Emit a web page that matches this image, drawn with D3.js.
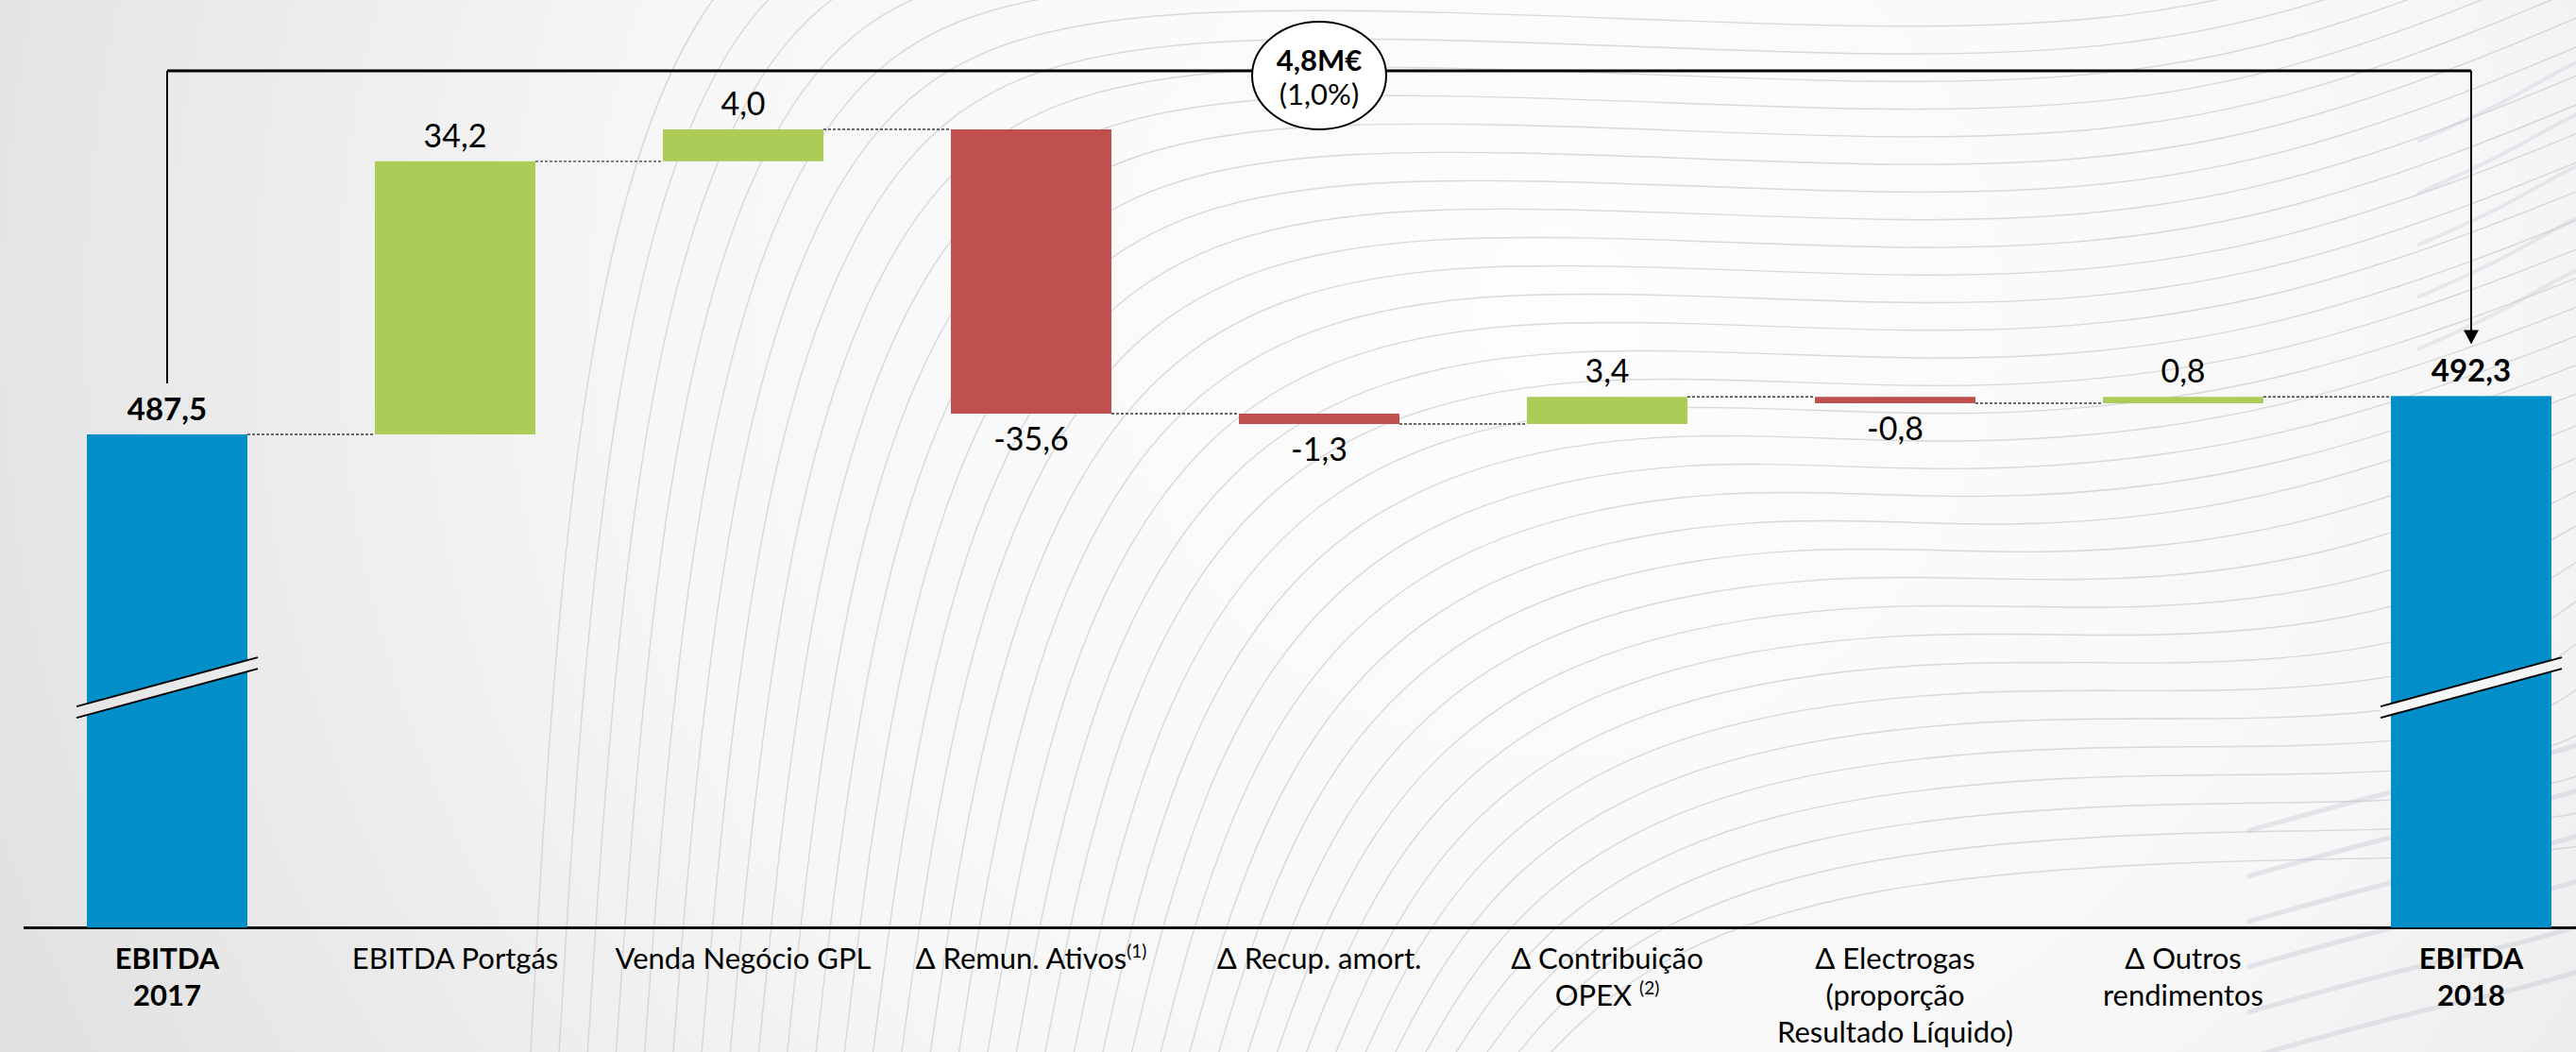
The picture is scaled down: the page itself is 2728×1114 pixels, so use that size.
<!DOCTYPE html>
<html>
<head>
<meta charset="utf-8">
<script src="https://cdn.jsdelivr.net/npm/d3@7"></script>
<style>
  html, body { margin: 0; padding: 0; background: #f4f4f4; }
  svg { display: block; }
  text { font-family: Lato, "Open Sans", sans-serif; fill: #000; }
</style>
</head>
<body>
<svg id="chart" width="2728" height="1114"></svg>
<script>
// EBITDA bridge 2017 -> 2018 (M€)
const categories = ["EBITDA 2017", "EBITDA Portgás", "Venda Negócio GPL", "Δ Remun. Ativos",
  "Δ Recup. amort.", "Δ Contribuição OPEX", "Δ Electrogas", "Δ Outros rendimentos", "EBITDA 2018"];
const values = [487.5, 34.2, 4.0, -35.6, -1.3, 3.4, -0.8, 0.8, 492.3];
const kinds = ["total", "delta", "delta", "delta", "delta", "delta", "delta", "delta", "total"];
// tick label lines; "^" starts a superscript note
const tickLines = [
  ["EBITDA", "2017"],
  ["EBITDA Portgás"],
  ["Venda Negócio GPL"],
  ["Δ Remun. Ativos^(1)"],
  ["Δ Recup. amort."],
  ["Δ Contribuição", "OPEX ^(2)"],
  ["Δ Electrogas", "(proporção", "Resultado Líquido)"],
  ["Δ Outros", "rendimentos"],
  ["EBITDA", "2018"]
];
const valueDomain = [425.76, 525.7];

const W = 2728, H = 1114;
const svg = d3.select("#chart");
const defs = svg.append("defs");

// soft grey backdrop, lighter toward the upper middle
const bg = defs.append("radialGradient").attr("id", "bgGrad")
  .attr("gradientUnits", "userSpaceOnUse")
  .attr("cx", 1650).attr("cy", 330).attr("r", 1750);
bg.append("stop").attr("offset", "0").attr("stop-color", "#fdfdfd");
bg.append("stop").attr("offset", "0.55").attr("stop-color", "#f7f7f7");
bg.append("stop").attr("offset", "1").attr("stop-color", "#e2e2e2");
svg.append("rect").attr("width", W).attr("height", H).attr("fill", "url(#bgGrad)");

// decorative contour lines in the backdrop
const deco = svg.append("g").attr("fill", "none");
const curve = d3.line().curve(d3.curveBasis);
d3.range(36).forEach(i => {
  const t = i / 35;
  const xb = 560 + t * 1050;
  const ya = -170 + t * 1080;
  const p1 = [xb + 40 + t * 80, ya + (1150 - ya) * 0.45];
  const p2 = [xb + 160 + t * 200, ya + (1150 - ya) * 0.1];
  const p3 = [xb + 420 + t * 300, ya];
  const p4 = [Math.max(p3[0] + 250, 2050), ya + 70 * (1 - t)];
  const p5 = [Math.max(p4[0] + 300, 2420), ya + 25 * (1 - t) - 20 * t];
  const pts = [[xb, 1150], p1, p2, p3, p4, p5, [2800, ya - 150]];
  deco.append("path").attr("d", curve(pts))
    .attr("stroke", "#c4c6cd").attr("stroke-width", 1.4).attr("opacity", 0.65);
});
// heavier swooshes along the right edge
d3.range(6).forEach(i => {
  const y0 = 820 + i * 48;
  deco.append("path").attr("d", curve([[2380, y0 + 60], [2560, y0 + 10], [2660, y0 - 10], [2760, y0 - 40]]))
    .attr("stroke", "#b9bfcf").attr("stroke-width", 5).attr("opacity", 0.35);
});
d3.range(5).forEach(i => {
  const y0 = 80 + i * 55;
  deco.append("path").attr("d", curve([[2560, y0 + 70], [2650, y0 + 30], [2700, y0], [2760, y0 - 30]]))
    .attr("stroke", "#c3c8d6").attr("stroke-width", 4).attr("opacity", 0.35);
});

const x = d3.scaleBand().domain(categories).range([24.5, 2769.5])
  .paddingInner(0.4426).paddingOuter(0.2213);
const y = d3.scaleLinear().domain(valueDomain).range([982, 137]);
const bw = x.bandwidth();

// running totals for the waterfall
let running = values[0];
const bars = categories.map((c, i) => {
  const v = values[i];
  let start, end;
  if (kinds[i] === "total") { start = valueDomain[0]; end = v; running = v; }
  else { start = running; end = running + v; running = end; }
  return { c, v, kind: kinds[i], start, end };
});

const fmt = d3.formatLocale({ decimal: ",", thousands: ".", grouping: [3], currency: ["", "€"], minus: "-" });
const f1 = fmt.format(".1f");

const colour = d => d.kind === "total" ? "#008fc9" : (d.v >= 0 ? "#abcd58" : "#c0504e");

// axis line
const axis = d3.axisBottom(x).tickSize(0).tickFormat("");
const gx = svg.append("g").attr("transform", "translate(0,982)").call(axis);
gx.select(".domain").attr("stroke", "#111").attr("stroke-width", 3);

// connectors
svg.append("g").selectAll("line").data(bars.slice(0, -1)).join("line")
  .attr("x1", d => x(d.c) + bw)
  .attr("x2", (d, i) => x(categories[i + 1]))
  .attr("y1", d => y(d.end)).attr("y2", d => y(d.end))
  .attr("stroke", "#3a3a3a").attr("stroke-width", 1.3).attr("stroke-dasharray", "3,2");

// bars
svg.append("g").selectAll("rect").data(bars).join("rect")
  .attr("x", d => x(d.c)).attr("width", bw)
  .attr("y", d => y(Math.max(d.start, d.end)))
  .attr("height", d => Math.abs(y(d.start) - y(d.end)))
  .attr("fill", colour);

// axis breaks on the total bars
const breakValue = 456.5;
svg.append("g").selectAll("g").data(bars.filter(d => d.kind === "total")).join("g")
  .each(function (d) {
    const g = d3.select(this);
    const xl = x(d.c) - 11, xr = x(d.c) + bw + 11, yc = y(breakValue);
    const yl = yc + 26, yr = yc - 26, gap = 12;
    g.append("path")
      .attr("d", `M${xl},${yl}L${xr},${yr}L${xr},${yr + gap}L${xl},${yl + gap}Z`)
      .attr("fill", "url(#bgGrad)");
    g.append("line").attr("x1", xl).attr("y1", yl).attr("x2", xr).attr("y2", yr)
      .attr("stroke", "#000").attr("stroke-width", 2);
    g.append("line").attr("x1", xl).attr("y1", yl + gap).attr("x2", xr).attr("y2", yr + gap)
      .attr("stroke", "#000").attr("stroke-width", 2);
  });

// value labels
svg.append("g").selectAll("text").data(bars).join("text")
  .attr("x", d => x(d.c) + bw / 2)
  .attr("y", d => (d.kind === "total" || d.v >= 0) ? y(Math.max(d.start, d.end)) - 15 : y(Math.min(d.start, d.end)) + 39)
  .attr("text-anchor", "middle")
  .style("font-size", d => d.kind === "total" ? "33px" : "34px")
  .style("font-weight", d => d.kind === "total" ? 700 : 400)
  .text(d => f1(d.v));

// category labels
const lab = svg.append("g");
categories.forEach((c, i) => {
  const cxTick = x(c) + bw / 2;
  const t = lab.append("text")
    .attr("x", cxTick).attr("y", 1026)
    .attr("text-anchor", "middle")
    .style("font-size", "31px")
    .style("font-weight", kinds[i] === "total" ? 700 : 400);
  tickLines[i].forEach((line, j) => {
    const [main, sup] = line.split("^");
    const ts = t.append("tspan").attr("x", cxTick).attr("dy", j === 0 ? 0 : 39);
    ts.text(main);
    if (sup) {
      t.append("tspan").attr("dy", -12).style("font-size", "19px").text(sup);
      t.append("tspan").attr("dy", 12).style("font-size", "19px").text(" ");
    }
  });
});

// overall change bracket
const first = bars[0], last = bars[bars.length - 1];
const xa = x(first.c) + bw / 2, xb = x(last.c) + bw / 2, yTop = 75;
const yLeftEnd = y(first.v) - 54, yTip = y(last.v) - 55;
const br = svg.append("g");
br.append("line").attr("x1", xa).attr("x2", xb).attr("y1", yTop).attr("y2", yTop)
  .attr("stroke", "#000").attr("stroke-width", 3);
br.append("line").attr("x1", xa).attr("x2", xa).attr("y1", yTop).attr("y2", yLeftEnd)
  .attr("stroke", "#000").attr("stroke-width", 2);
br.append("line").attr("x1", xb).attr("x2", xb).attr("y1", yTop).attr("y2", yTip - 12)
  .attr("stroke", "#000").attr("stroke-width", 2);
br.append("path").attr("d", `M${xb - 8},${yTip - 15}L${xb + 8},${yTip - 15}L${xb},${yTip}Z`).attr("fill", "#000");

const diff = last.v - first.v;
const pct = diff / first.v * 100;
const cx = (xa + xb) / 2, cy = 80;
br.append("ellipse").attr("cx", cx).attr("cy", cy).attr("rx", 71).attr("ry", 57)
  .attr("fill", "#fff").attr("stroke", "#000").attr("stroke-width", 2);
br.append("text").attr("x", cx).attr("y", cy - 5).attr("text-anchor", "middle")
  .style("font-size", "31px").style("font-weight", 700).text(f1(diff) + "M€");
br.append("text").attr("x", cx).attr("y", cy + 31).attr("text-anchor", "middle")
  .style("font-size", "31px").text("(" + f1(pct) + "%)");
</script>
</body>
</html>
